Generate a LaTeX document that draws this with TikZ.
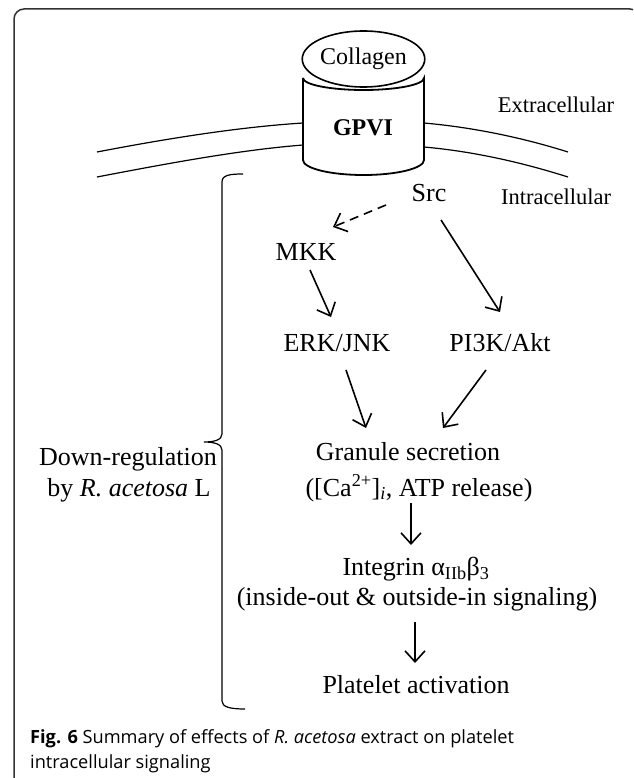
\documentclass[tikz,border=0pt]{standalone}
\usepackage{fontspec}
\setmainfont{Liberation Serif}
\newfontfamily\capfont{Open Sans}
\usetikzlibrary{arrows.meta,shapes.geometric}
\definecolor{frame gray}{rgb}{0.2,0.2,0.2}
\tikzset{
	big/.style={font=\fontsize{26}{30}\selectfont, inner sep=0pt, anchor=base},
	small/.style={font=\fontsize{22.5}{26}\selectfont, inner sep=0pt, anchor=base},
	arr/.style={line width=1.6pt, -{Straight Barb[length=11pt,width=20pt]}},
	dasharr/.style={arr, dash pattern=on 9pt off 6pt},
	memb/.style={line width=1.2pt},
}

\begin{document}
\begin{tikzpicture}[x=1pt, y=-1pt]
			\useasboundingbox (0,0) rectangle (633,778);
			% frame
			\begin{scope}
				\clip (0,0) rectangle (633,778);
				\draw[frame gray, line width=1.5pt, rounded corners=10pt] (14,9) rectangle (640,790);
			\end{scope}
			% membrane
			\draw[memb] 
				(97,152) .. controls (170,138) and (240,127) .. (303,123)
				(97,177) .. controls (170,163) and (240,150) .. (303,145)
				(424,123) .. controls (480,128) and (530,140) .. (568,152)
				(424,147) .. controls (480,152) and (530,165) .. (568,177);
			% receptor
			\draw[line width=1.8pt, fill=white] 
				(303,78) -- (303,160) .. controls (303,168.3) and (330.1,175) .. (363.5,175)
				.. controls (396.9,175) and (424,168.3) .. (424,160) -- (424,78)
				.. controls (424,84.6) and (396.9,90) .. (363.5,90)
				.. controls (330.1,90) and (303,84.6) .. (303,78);
			\node[draw, ellipse, line width=1.6pt, minimum width=118pt, minimum height=56pt, inner sep=0pt, 
				font=\fontsize{24}{28}\selectfont] (coll) at (363.5,59) {Collagen};
			\node[big, font=\fontsize{24}{28}\selectfont\bfseries] (gpvi) at (363,136) {GPVI};
			\node[small] (extra) at (556,112.5) {Extracellular};
			\node[small] (intra) at (556,204.5) {Intracellular};
			% pathway
			\node[big] (src) at (429,201) {Src};
			\node[big] (mkk) at (306,260.5) {MKK};
			\node[big] (erk) at (337,351.5) {ERK/JNK};
			\node[big] (pik) at (500,351.5) {PI3K/Akt};
			\node[big] (gran) at (408,460.5) {Granule secretion};
			\node[big] (ca) at (419,496) {([Ca\textsuperscript{2+}]\textsubscript{\itshape i}, ATP release)};
			\node[big] (integ) at (416,575.5) {Integrin α\textsubscript{IIb}β\textsubscript{3}};
			\node[big] (sig) at (417,605.5) {(inside-out \& outside-in signaling)};
			\node[big] (plat) at (416,693.5) {Platelet activation};
			\draw[dasharr] ([shift={(-43,4)}]src.base) -- ([shift={(27,-33.5)}]mkk.base);
			\draw[arr] ([shift={(4,9.5)}]mkk.base) -- ([shift={(-6,-34.5)}]erk.base);
			\draw[arr] ([shift={(12,19)}]src.base) -- ([shift={(0,-39.5)}]pik.base);
			\draw[arr] ([shift={(9,18.5)}]erk.base) -- ([shift={(-42,-32.5)}]gran.base);
			\draw[arr] ([shift={(-14,18.5)}]pik.base) -- ([shift={(35,-32.5)}]gran.base);
			\draw[arr] ([shift={(-8,7)}]ca.base) -- ([shift={(-5,-30.5)}]integ.base);
			\draw[arr] ([shift={(-2,16.5)}]sig.base) -- ([shift={(-1,-30.5)}]plat.base);
			% bracket
			\draw[line width=1.2pt] 
				(243,174) .. controls (230,174) and (222,175) .. (222,182) -- (222,434)
				.. controls (222,440) and (214,442) .. (204,442)
				.. controls (214,442) and (222,444) .. (222,450) -- (222,701)
				.. controls (222,707) and (230,709) .. (245,709);
			\node[big] (down) at (128,465.5) {Down-regulation};
			\node[big] (byra) at (129,496.5) {by \textit{R. acetosa} L};
			% caption
			\node[anchor=base west, inner sep=0pt, font=\capfont\fontsize{18.2}{22}\selectfont] (capa) at (30,743.5) 
				{\textbf{Fig. 6} Summary of effects of \textit{R. acetosa} extract on platelet};
			\node[anchor=base west, inner sep=0pt, font=\capfont\fontsize{18.2}{22}\selectfont] (capb) at (30,768) 
				{intracellular signaling};
		\end{tikzpicture}
\end{document}
